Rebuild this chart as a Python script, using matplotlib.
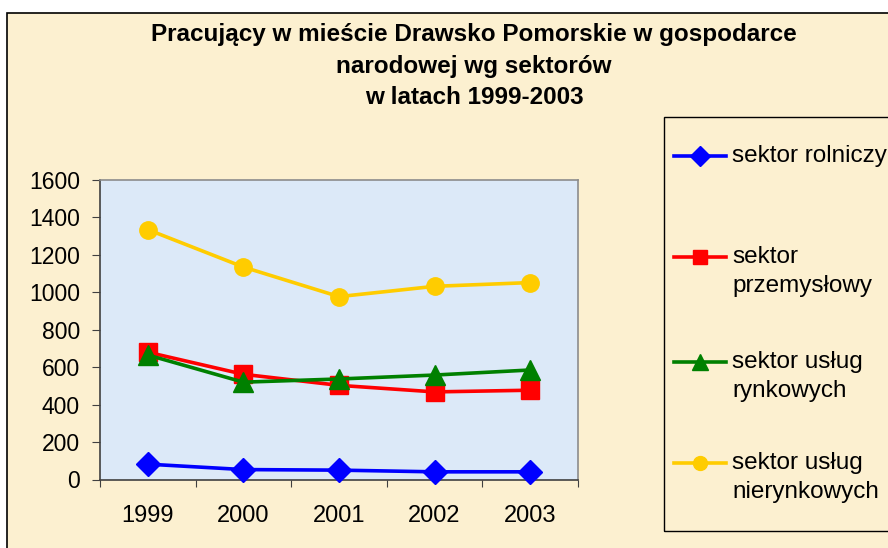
#!/usr/bin/env python
# -*- coding: utf-8 -*-

"""
  Pracujacy w miescie Drawsko Pomorskie - line chart (1999-2003).
"""

import matplotlib
matplotlib.use("Agg")
import matplotlib.pyplot as plt
from matplotlib.lines import Line2D
from matplotlib.patches import Rectangle

plt.rcParams['font.family'] = ['Liberation Sans', 'DejaVu Sans']

# The data.
years = ["1999", "2000", "2001", "2002", "2003"]
rolniczy = [82, 53, 50, 41, 41]
przemyslowy = [680, 562, 503, 468, 477]
uslugi_rynkowe = [665, 520, 537, 558, 585]
uslugi_nierynkowe = [1335, 1135, 977, 1032, 1052]

series_labels = [["sektor rolniczy"],
                 ["sektor", "przemysłowy"],
                 ["sektor usług", "rynkowych"],
                 ["sektor usług", "nierynkowych"]]

title_lines = ["Pracujący w mieście Drawsko Pomorskie w gospodarce",
               "narodowej wg sektorów",
               "w latach 1999-2003"]

W, H = 888.0, 548.0

#...styles for each series.
styles = [dict(color='#0000FF', marker='D', ms=12.5),
          dict(color='#FF0000', marker='s', ms=12.5),
          dict(color='#008000', marker='^', ms=14.0),
          dict(color='#FFCC00', marker='o', ms=12.5)]

fig = plt.figure(figsize=(W / 100.0, H / 100.0), dpi=100, facecolor='white')

# The chart area (cream, with a black frame) - behind the axes.
fig.patches.append(Rectangle((7 / W, -0.05), 1.2, 1 - 13 / H + 0.05,
                             transform=fig.transFigure, facecolor='#FCF0D0',
                             edgecolor='black', linewidth=1.2, zorder=-5))

# The plot axes.
ax = fig.add_axes([100 / W, 1 - 479.5 / H, 478 / W, 299.5 / H])
ax.set_facecolor('#DCE9F8')

x = list(range(1, len(years) + 1))
all_series = [rolniczy, przemyslowy, uslugi_rynkowe, uslugi_nierynkowe]
for vals, st in zip(all_series, styles):
    ax.plot(x, vals, color=st['color'], linewidth=2.6, marker=st['marker'],
            markersize=st['ms'], markerfacecolor=st['color'],
            markeredgecolor=st['color'], clip_on=False, zorder=3)

ax.set_xlim(0.5, len(years) + 0.5)
ax.set_ylim(0, 1600)
ax.set_yticks(range(0, 1601, 200))
ax.set_xticks([i + 0.5 for i in range(len(years) + 1)])
ax.set_xticklabels([])
ax.set_xticks(x, minor=True)
ax.set_xticklabels(years, minor=True)
ax.tick_params(axis='x', which='minor', length=0, pad=18, labelsize=17)
ax.tick_params(axis='x', which='major', length=5, direction='out', color='#404040')
ax.tick_params(axis='y', length=6, direction='out', color='#404040', labelsize=16.5, pad=8.5)

for side in ['left', 'bottom']:
    ax.spines[side].set_color('#404040')
    ax.spines[side].set_linewidth(1.2)
for side in ['top', 'right']:
    ax.spines[side].set_color('#8C8C8C')
    ax.spines[side].set_linewidth(1.2)

# The title, one line at a time.
for ty, line in zip([35, 66, 97], title_lines):
    fig.text(474 / W, 1 - ty / H, line, ha='center', va='center',
             fontsize=17.5, fontweight='bold')

# The legend box.
fig.patches.append(Rectangle((664 / W, 1 - 531 / H), 0.5, 414 / H,
                             transform=fig.transFigure, facecolor='none',
                             edgecolor='black', linewidth=1.0, zorder=1))

# The legend entries.
entry_ys = [156, 257, 362, 463]
for ey, st, lab in zip(entry_ys, styles, series_labels):
    yy = 1 - ey / H
    fig.add_artist(Line2D([674 / W, 726 / W], [yy, yy], transform=fig.transFigure,
                          color=st['color'], linewidth=2.6))
    fig.add_artist(Line2D([700 / W], [yy], transform=fig.transFigure,
                          marker=st['marker'], markersize=st['ms'] * 0.8,
                          color=st['color'], linestyle='none'))
    for k, part in enumerate(lab):
        fig.text(732 / W, 1 - (ey + 29 * k) / H, part, ha='left', va='center',
                 fontsize=17.5)

fig.savefig("out.png", dpi=100, facecolor='white')
